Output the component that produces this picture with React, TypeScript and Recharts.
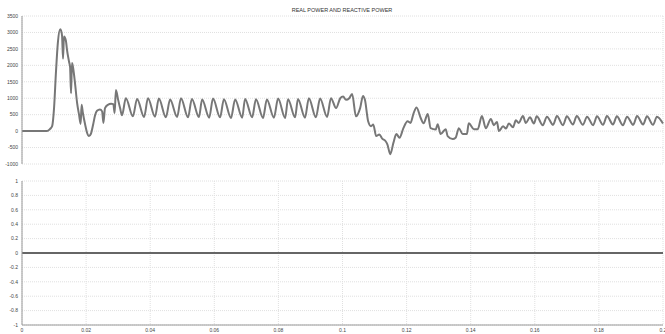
import React from "react";
import {
  LineChart,
  Line,
  XAxis,
  YAxis,
  CartesianGrid,
} from "recharts";

// time axis (s) and real power samples
const powerTime = [
  0, 0.0078, 0.0087, 0.0094, 0.01, 0.0106, 0.0112, 0.0119, 0.0122, 0.0125,
  0.0128, 0.0131, 0.0137, 0.014, 0.0147, 0.015, 0.0153, 0.0156, 0.0159, 0.0165,
  0.0172, 0.0178, 0.0183, 0.0186, 0.019, 0.0197, 0.0203, 0.0209, 0.0215, 0.0222,
  0.0228, 0.0234, 0.0243, 0.025, 0.0254, 0.0259, 0.0268, 0.0278, 0.0285, 0.0289,
  0.0293, 0.03, 0.0306, 0.0312,
  0.0324, 0.0346, 0.0359, 0.0381, 0.0393, 0.0415, 0.0427, 0.0449, 0.0462, 0.0484,
  0.0496, 0.0518, 0.053, 0.0552, 0.0562, 0.0584, 0.0596, 0.0618, 0.063, 0.0652,
  0.0665, 0.0687, 0.0696, 0.0718, 0.073, 0.0752, 0.0764, 0.0786, 0.0799, 0.0821,
  0.083, 0.0852, 0.0861, 0.0883, 0.0895, 0.0917, 0.093, 0.0952, 0.0964,
  0.098, 0.0993, 0.1002, 0.1011, 0.1021, 0.103, 0.1042, 0.1055, 0.1064, 0.107,
  0.108, 0.1089, 0.1096, 0.1105, 0.1115, 0.1124, 0.1134, 0.114, 0.1149, 0.1159,
  0.1168, 0.1178, 0.119, 0.1203, 0.1212, 0.1222, 0.1231, 0.1244, 0.1253, 0.1266,
  0.1275, 0.1291, 0.1297, 0.1306, 0.1322, 0.1328, 0.1344, 0.1353, 0.1363, 0.1375,
  0.1388, 0.1394, 0.141, 0.1422, 0.1435, 0.1447, 0.1463, 0.1472, 0.1482, 0.1488,
  0.1501, 0.151, 0.1519, 0.1532, 0.1541, 0.155, 0.1563, 0.1572, 0.1585, 0.1597,
  0.1606, 0.1625, 0.1638, 0.1657, 0.1669, 0.1688, 0.17, 0.1719, 0.1731, 0.175,
  0.1763, 0.1782, 0.1794, 0.1813, 0.1825, 0.1844, 0.1856, 0.1875, 0.1888, 0.1907,
  0.1919, 0.1938, 0.195, 0.1969, 0.1981, 0.2,
];

const powerValue = [
  0, 0, 60, 150, 700, 1800, 2700, 3100, 3050, 2900,
  2200, 2880, 2750, 2500, 2100, 1950, 1150, 2070, 1950, 1500,
  850, 500, 220, 800, 550, 200, -50, -150, -80, 200,
  480, 620, 660, 600, 250, 700, 800, 830, 820, 550,
  1250, 950, 700, 480,
  1000, 450, 980, 430, 1000, 440, 990, 420, 960, 430,
  1000, 420, 980, 430, 960, 410, 990, 420, 970, 400,
  960, 410, 980, 420, 970, 400, 960, 410, 990, 400,
  970, 420, 980, 410, 1000, 420, 990, 430, 1000,
  700, 1000, 1050, 950, 1000, 1130, 450, 700, 1070, 950,
  300, 150, 200, -150, -100, -230, -300, -400, -700, -350,
  -90, -200, 90, 300, 250, 550, 720, 400, 240, 520,
  90, 50, 210, -90, 60, -150, -240, -200, 90, -90,
  -90, 240, 60, 60, 460, 90, 370, 180, 280, 0,
  150, 80, 230, 120, 330, 250, 460, 250, 420, 230,
  450, 180, 440, 190, 460, 180, 450, 200, 460, 190,
  440, 180, 450, 190, 460, 200, 450, 180, 440, 190,
  460, 200, 450, 190, 440, 230,
];

const reactiveTime = [0, 0.2];
const reactiveValue = [0, 0];

const timeTicks = [0, 0.02, 0.04, 0.06, 0.08, 0.1, 0.12, 0.14, 0.16, 0.18, 0.2];
const powerTicks = [-1000, -500, 0, 500, 1000, 1500, 2000, 2500, 3000, 3500];
const reactiveTicks = [-1, -0.8, -0.6, -0.4, -0.2, 0, 0.2, 0.4, 0.6, 0.8, 1];

const title = "REAL POWER AND REACTIVE POWER";

const powerData = powerTime.map((t, i) => ({ t, p: powerValue[i] }));
const reactiveData = reactiveTime.map((t, i) => ({ t, q: reactiveValue[i] }));

const tickStyle = { fontSize: 5, fill: "#444", fontFamily: "Liberation Sans" };
const axisColor = "#9a9a9a";
const gridColor = "#e0e0e0";

export default function App() {
  return (
    <div
      style={{
        position: "absolute",
        left: 0,
        top: 0,
        width: 665,
        height: 334,
        background: "#fff",
        fontFamily: "Liberation Sans",
      }}
    >
      <div
        style={{
          position: "absolute",
          top: 7,
          left: 290,
          width: 104,
          textAlign: "center",
          fontSize: 5.5,
          color: "#333",
          whiteSpace: "nowrap",
        }}
      >
        {title}
      </div>

      <div style={{ position: "absolute", left: 0, top: 0 }}>
        <LineChart
          width={665}
          height={168}
          data={powerData}
          margin={{ top: 16, right: 2, left: 0, bottom: 4 }}
        >
          <CartesianGrid stroke={gridColor} strokeDasharray="1 1" />
          <XAxis
            dataKey="t"
            type="number"
            domain={[0, 0.2]}
            ticks={timeTicks}
            tick={false}
            height={0}
            axisLine={{ stroke: axisColor }}
            tickLine={false}
          />
          <XAxis
            xAxisId="top"
            orientation="top"
            type="number"
            domain={[0, 0.2]}
            ticks={timeTicks}
            tick={false}
            height={0}
            axisLine={{ stroke: axisColor }}
            tickLine={false}
          />
          <YAxis
            type="number"
            domain={[-1000, 3500]}
            ticks={powerTicks}
            width={22}
            tick={tickStyle}
            tickSize={2}
            tickLine={false}
            axisLine={{ stroke: axisColor }}
            interval={0}
          />
          <YAxis
            yAxisId="right"
            orientation="right"
            type="number"
            domain={[-1000, 3500]}
            ticks={powerTicks}
            width={0}
            tick={false}
            tickLine={false}
            axisLine={{ stroke: axisColor }}
          />
          <Line
            type="monotone"
            dataKey="p"
            stroke="#777"
            strokeWidth={2}
            dot={false}
            isAnimationActive={false}
          />
        </LineChart>
      </div>

      <div style={{ position: "absolute", left: 0, top: 170 }}>
        <LineChart
          width={665}
          height={164}
          data={reactiveData}
          margin={{ top: 11, right: 2, left: 0, bottom: 0 }}
        >
          <CartesianGrid stroke={gridColor} strokeDasharray="1 1" />
          <XAxis
            dataKey="t"
            type="number"
            domain={[0, 0.2]}
            ticks={timeTicks}
            interval={0}
            height={9}
            tick={tickStyle}
            tickSize={1}
            tickLine={false}
            axisLine={{ stroke: axisColor }}
          />
          <XAxis
            xAxisId="top"
            orientation="top"
            type="number"
            domain={[0, 0.2]}
            ticks={timeTicks}
            tick={false}
            height={0}
            axisLine={{ stroke: axisColor }}
            tickLine={false}
          />
          <YAxis
            type="number"
            domain={[-1, 1]}
            ticks={reactiveTicks}
            width={22}
            tick={tickStyle}
            tickSize={2}
            tickLine={false}
            axisLine={{ stroke: axisColor }}
            interval={0}
          />
          <YAxis
            yAxisId="right"
            orientation="right"
            type="number"
            domain={[-1, 1]}
            ticks={reactiveTicks}
            width={0}
            tick={false}
            tickLine={false}
            axisLine={{ stroke: axisColor }}
          />
          <Line
            type="linear"
            dataKey="q"
            stroke="#666"
            strokeWidth={2}
            dot={false}
            isAnimationActive={false}
          />
        </LineChart>
      </div>
    </div>
  );
}
